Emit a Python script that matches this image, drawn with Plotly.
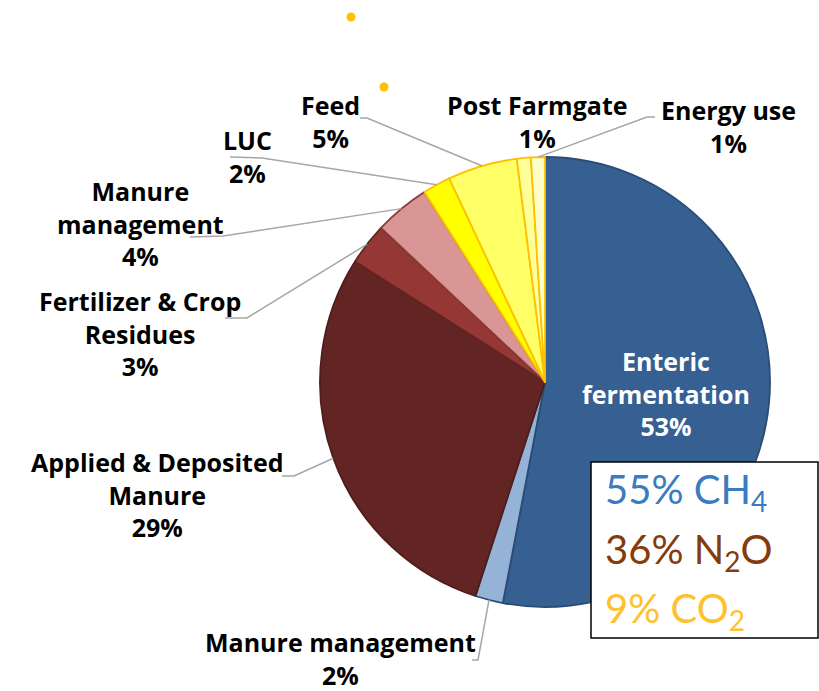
import math
import plotly.graph_objects as go

# ---------------- data ----------------
categories = ["Enteric fermentation", "Manure management (CH4)", "Applied & Deposited Manure",
              "Fertilizer & Crop Residues", "Manure management (N2O)", "LUC", "Feed",
              "Post Farmgate", "Energy use"]
values = [53, 2, 29, 3, 4, 2, 5, 1, 1]
label_text = ["Enteric<br>fermentation", "Manure management", "Applied & Deposited<br>Manure",
              "Fertilizer & Crop<br>Residues", "Manure<br>management", "LUC", "Feed",
              "Post Farmgate", "Energy use"]
slice_colors = ["#376092", "#95B3D7", "#632523", "#953735", "#D99694",
                "#FFFF00", "#FFFF66", "#FFFF99", "#FFFFCC"]
border_colors = ["#2B4C74", "#2B4C74", "#4F1D1C", "#632523", "#8B3A38",
                 "#FFC000", "#FFC000", "#FFC000", "#FFC000"]

gas_shares = [55, 36, 9]
gas_names = ["CH<sub>4</sub>", "N<sub>2</sub>O", "CO<sub>2</sub>"]
gas_colors = ["#3A7CBF", "#843C0C", "#FFC12E"]

# ---------------- layout helpers (pixels) ----------------
W, H = 819, 691
CX, CY, R = 545, 382, 225


def px(x):
    return x / W


def py(y):
    return 1 - y / H


# label block centers (pixels) and leader-line starting points on the label side
label_pos = [(666, 393), (340, 658), (157, 494), (140, 334), (140, 223),
             (247, 156), (330, 121), (537, 121), (728, 126)]
leader_start = [None, [(472, 660), (478, 660)], [(282, 476), (294, 476)],
                [(225, 318), (247, 318)], [(190, 237), (223, 236)],
                [(230, 157), (262, 158)], [(360, 118), (367, 118)],
                None, [(655, 117), (647, 117)]]

fig = go.Figure()
fig.add_trace(go.Pie(
    values=values,
    labels=categories,
    sort=False,
    direction="clockwise",
    rotation=0,
    textinfo="none",
    hoverinfo="label+percent",
    marker=dict(colors=slice_colors, line=dict(color=border_colors, width=1.8)),
    domain=dict(x=[px(CX - R), px(CX + R)], y=[py(CY + R), py(CY - R)]),
    showlegend=False,
))

total = sum(values)
annotations = []
shapes = []
cum = 0
for i, v in enumerate(values):
    mid = (cum + v / 2) / total * 2 * math.pi
    cum += v
    ex = CX + R * math.sin(mid)
    ey = CY - R * math.cos(mid)
    pct = f"{round(v / total * 100)}%"
    color = "white" if i == 0 else "black"
    lx, ly = label_pos[i]
    annotations.append(dict(
        x=px(lx), y=py(ly), xref="paper", yref="paper",
        text=f"<b>{label_text[i]}<br>{pct}</b>", showarrow=False,
        xanchor="center", yanchor="middle", align="center",
        font=dict(family="Open Sans", size=25, color=color, weight=800),
    ))
    if leader_start[i]:
        pts = leader_start[i] + [(ex, ey)]
        path = "M " + " L ".join(f"{px(a):.5f},{py(b):.5f}" for a, b in pts)
        shapes.append(dict(type="path", xref="paper", yref="paper", path=path,
                           line=dict(color="#A6A6A6", width=1.5)))

# gas share box
shapes.append(dict(type="rect", xref="paper", yref="paper",
                   x0=px(591), x1=px(818), y0=py(638), y1=py(462),
                   fillcolor="white", line=dict(color="black", width=1.5)))
for k, (s, n, c) in enumerate(zip(gas_shares, gas_names, gas_colors)):
    annotations.append(dict(
        x=px(603), y=py(492 + 59 * k), xref="paper", yref="paper",
        text=f"{s}% {n}", showarrow=False, xanchor="left", yanchor="middle",
        font=dict(family="Lato", size=40, color=c),
    ))

# decorative dots
for (dx, dy) in [(351, 17), (384, 87)]:
    shapes.append(dict(type="circle", xref="paper", yref="paper",
                       x0=px(dx - 4.5), x1=px(dx + 4.5), y0=py(dy + 4.5), y1=py(dy - 4.5),
                       fillcolor="#FFC000", line=dict(width=0)))

fig.update_layout(
    width=W, height=H,
    margin=dict(l=0, r=0, t=0, b=0),
    paper_bgcolor="white", plot_bgcolor="white",
    annotations=annotations, shapes=shapes,
    showlegend=False,
)
fig.write_html("out.html", post_script="document.body.style.margin='0px';",
               config={"displayModeBar": False})
